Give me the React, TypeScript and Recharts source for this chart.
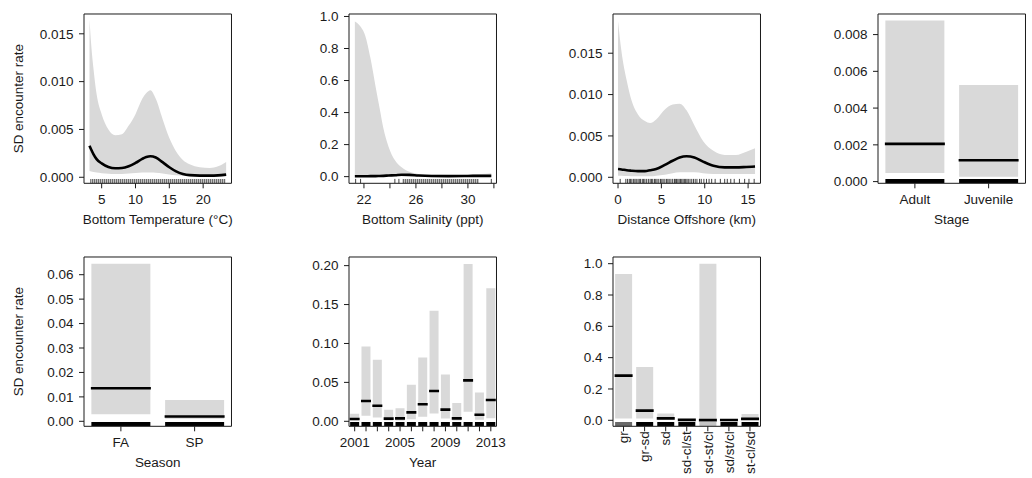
import React from 'react';
import {
  ComposedChart,
  Area,
  Line,
  Bar,
  Cell,
  Scatter,
  XAxis,
  YAxis,
  ReferenceArea,
} from 'recharts';

// ---------------- DATA ----------------
// Panel 1: Bottom Temperature
const tempX = [3.2, 3.45, 3.8, 4.25, 5.0, 6.0, 7.0, 8.0, 9.0, 10.0, 11.0, 11.6, 12.2, 13.0, 14.0, 15.0, 16.0, 17.0, 18.0, 19.5, 21.0, 22.2, 23.4];
const tempFit = [0.0033, 0.0029, 0.0024, 0.0019, 0.00145, 0.00108, 0.00095, 0.00097, 0.00115, 0.0015, 0.00193, 0.00212, 0.0022, 0.00207, 0.00158, 0.00105, 0.00062, 0.00035, 0.00022, 0.00017, 0.00017, 0.0002, 0.00028];
const tempLo = [0.00065, 0.0006, 0.00055, 0.0005, 0.00043, 0.00038, 0.00035, 0.00035, 0.0004, 0.00045, 0.0005, 0.0005, 0.0005, 0.00047, 0.0004, 0.0003, 0.0002, 0.00015, 0.00012, 0.0001, 0.0001, 0.0001, 0.00012];
const tempHi = [0.0165, 0.0139, 0.0113, 0.0087, 0.0066, 0.005, 0.0044, 0.0045, 0.0054, 0.0066, 0.0082, 0.0088, 0.0091, 0.0082, 0.0061, 0.0041, 0.0027, 0.0018, 0.00135, 0.00105, 0.00098, 0.00115, 0.0016];
const tempRugRange = [3.3, 23.3];

// Panel 2: Bottom Salinity
const salX = [21.3, 21.7, 22.1, 22.5, 22.9, 23.2, 23.5, 23.9, 24.4, 24.9, 25.5, 26.2, 27.2, 28.5, 30.0, 31.0, 31.8];
const salFit = [0.002, 0.002, 0.002, 0.003, 0.003, 0.004, 0.005, 0.007, 0.009, 0.012, 0.011, 0.007, 0.004, 0.003, 0.004, 0.005, 0.005];
const salLo = [0.0005, 0.0005, 0.0005, 0.0005, 0.0005, 0.0006, 0.0008, 0.001, 0.002, 0.003, 0.003, 0.002, 0.001, 0.001, 0.001, 0.001, 0.001];
const salHi = [0.968, 0.94, 0.88, 0.74, 0.56, 0.43, 0.3, 0.185, 0.1, 0.058, 0.03, 0.017, 0.011, 0.01, 0.012, 0.016, 0.021];
const salRugRange = [24.95, 30.85];
const salRugTicks = [21.36, 21.74, 24.38, 24.69, 31.8];

// Panel 3: Distance Offshore
const distX = [0, 0.4, 1.0, 1.5, 2.3, 3.1, 3.7, 4.4, 5.4, 6.3, 7.1, 7.9, 8.8, 9.8, 11.0, 12.3, 13.6, 14.8, 15.8];
const distFit = [0.001, 0.00095, 0.00085, 0.0008, 0.00075, 0.00075, 0.00085, 0.001, 0.0015, 0.002, 0.0024, 0.00255, 0.0024, 0.0019, 0.0014, 0.0012, 0.0012, 0.00125, 0.0013];
const distLo = [0.0002, 0.0002, 0.00015, 0.00013, 0.00012, 0.00012, 0.00012, 0.0002, 0.0003, 0.0005, 0.0006, 0.0006, 0.0006, 0.0005, 0.0004, 0.0004, 0.0004, 0.0004, 0.0004];
const distHi = [0.0189, 0.0152, 0.0117, 0.0095, 0.0076, 0.0068, 0.00656, 0.007, 0.0082, 0.0088, 0.0089, 0.0081, 0.0063, 0.0044, 0.0032, 0.0027, 0.0027, 0.0031, 0.0035];
const distRugTicks = [0.25, 0.9, 1.1, 1.3, 1.45, 1.6, 1.8, 1.95, 2.1, 2.3, 2.45, 2.6, 2.8, 2.95, 3.1, 3.3, 3.5, 3.7, 3.85, 4.0, 4.2, 4.35, 4.5, 4.7, 4.9, 5.05, 5.2, 5.4, 5.6, 5.75, 5.9, 6.1, 6.3, 6.5, 6.6, 6.75, 6.9, 7.05, 7.2, 7.35, 7.5, 7.65, 7.8, 7.95, 8.1, 8.3, 8.5, 8.7, 8.9, 9.1, 9.4, 9.6, 9.9, 10.2, 10.5, 10.8, 11.2, 11.8, 12.3, 12.6, 13.0, 13.4, 14.0, 14.6, 15.1, 15.7];

// Panel 4: Stage
const stageCats = ['Adult', 'Juvenile'];
const stageFit = [0.00205, 0.00116];
const stageLo = [0.00047, 0.00027];
const stageHi = [0.00876, 0.00526];

// Panel 5: Season
const seasonCats = ['FA', 'SP'];
const seasonFit = [0.0135, 0.002];
const seasonLo = [0.0029, 0.001];
const seasonHi = [0.0645, 0.0087];

// Panel 6: Year
const yearCats = ['2001', '2002', '2003', '2004', '2005', '2006', '2007', '2008', '2009', '2010', '2011', '2012', '2013'];
const yearFit = [0.003, 0.026, 0.02, 0.0034, 0.0038, 0.0115, 0.022, 0.039, 0.015, 0.0038, 0.0526, 0.0085, 0.0274];
const yearLo = [0.001, 0.007, 0.005, 0.001, 0.001, 0.0026, 0.006, 0.01, 0.0035, 0.001, 0.0124, 0.002, 0.004];
const yearHi = [0.0098, 0.096, 0.079, 0.015, 0.0167, 0.047, 0.082, 0.142, 0.06, 0.0235, 0.202, 0.037, 0.171];
const yearLabels = ['2001', '2005', '2009', '2013'];

// Panel 7: Sediment
const geoCats = ['gr', 'gr-sd', 'sd', 'sd-cl/st', 'sd-st/cl', 'sd/st/cl', 'st-cl/sd'];
const geoFit = [0.285, 0.062, 0.012, 0.003, 0.001, 0.002, 0.009];
const geoLo = [0.012, 0.011, 0.003, 0.001, 0.0, 0.001, 0.002];
const geoHi = [0.934, 0.34, 0.043, 0.009, 1.0, 0.009, 0.04];
const geoRugColor = ['#6a6a6a', '#000', '#000', '#000', '#c4c4c4', '#000', '#000'];

// ---------------- LAYOUT ----------------
const FONT = '"Liberation Sans", Arial, Helvetica, sans-serif';
const FS = 13.5;
const INK = '#1a1a1a';
const BAND = '#d9d9d9';
const BOX_W = 147.5;
const BOX_H = 169.3;
const COL_LEFT = [84, 348.5, 613.3, 878];
const ROW_TOP = [13.5, 257.3];
const L = 80;
const T = 8;
const R = 22;
const B = 52;
const TICK = 5;
const RUG_PX = 4.4;

const tickStyle = { fontSize: FS, fill: INK };

function contRows(xs: number[], fit: number[], lo: number[], hi: number[]) {
  return xs.map((x, i) => ({ x, fit: fit[i], band: [lo[i], hi[i]] }));
}

function xTitleContent(text: string) {
  return (p: any) => {
    const vb = p.viewBox;
    return (
      <text x={vb.x + vb.width / 2} y={vb.y + 41} textAnchor="middle" fontSize={FS} fill={INK}>
        {text}
      </text>
    );
  };
}

function yTitleContent(text: string) {
  return (p: any) => {
    const vb = p.viewBox;
    const x = vb.x + vb.width - 60.7;
    const y = vb.y + vb.height / 2;
    return (
      <text x={x} y={y} transform={`rotate(-90 ${x} ${y})`} textAnchor="middle" fontSize={FS} fill={INK}>
        {text}
      </text>
    );
  };
}

function RugTick(p: any) {
  return <line x1={p.cx} x2={p.cx} y1={p.cy} y2={p.cy - RUG_PX} stroke="#111" strokeWidth={0.8} />;
}

function FitShape(p: any) {
  return <line x1={p.x - 0.5} x2={p.x + p.width + 0.5} y1={p.y} y2={p.y} stroke="#000" strokeWidth={2.6} />;
}

function RotTick(p: any) {
  const x = p.x;
  const y = p.y - 6;
  return (
    <text x={x} y={y} dy="0.35em" transform={`rotate(-90 ${x} ${y})`} textAnchor="end" fontSize={FS} fill={INK}>
      {p.payload.value}
    </text>
  );
}

// top and right frame lines of the plot box (R's box())
function frameAxes(yDom: [number, number], topProps: any) {
  return [
    <XAxis
      key="ftop"
      xAxisId="top"
      orientation="top"
      height={1}
      tick={false}
      tickLine={false}
      axisLine={{ stroke: INK }}
      {...topProps}
    />,
    <YAxis
      key="fright"
      yAxisId="right"
      orientation="right"
      type="number"
      domain={yDom}
      allowDataOverflow
      width={1}
      tick={false}
      tickLine={false}
      axisLine={{ stroke: INK }}
    />,
  ];
}

type ContProps = {
  col: number;
  row: number;
  rows: any[];
  xDom: [number, number];
  xTicks: number[];
  xFmt?: (v: any) => string;
  yDom: [number, number];
  yTicks: number[];
  yDigits: number;
  xTitle: string;
  yTitle?: string;
  rugRange?: number[];
  rugTicks?: number[];
  pid: string;
};

function ContinuousPanel(props: ContProps) {
  const { col, row, rows, xDom, xTicks, xFmt, yDom, yTicks, yDigits, xTitle, yTitle, rugRange, rugTicks, pid } = props;
  const W = L + BOX_W + R;
  const H = T + BOX_H + B;
  const rugTop = yDom[0] + ((yDom[1] - yDom[0]) * RUG_PX) / BOX_H;
  return (
    <div style={{ position: 'absolute', left: COL_LEFT[col] - L, top: ROW_TOP[row] - T, width: W, height: H }}>
      <ComposedChart width={W} height={H} data={rows} margin={{ top: T - 1, right: R - 1, bottom: 0, left: 0 }}>
        <defs>
          <pattern id={pid} width={2} height={10} patternUnits="userSpaceOnUse">
            <rect width={2} height={10} fill="#c4c4c4" />
            <rect width={1} height={10} fill="#6e6e6e" />
          </pattern>
        </defs>
        <XAxis
          dataKey="x"
          type="number"
          domain={xDom}
          allowDataOverflow
          ticks={xTicks}
          interval={0}
          tickFormatter={xFmt}
          tickSize={TICK}
          tickMargin={6}
          height={B}
          tick={tickStyle}
          axisLine={{ stroke: INK }}
          tickLine={{ stroke: INK }}
          label={xTitleContent(xTitle)}
        />
        <YAxis
          type="number"
          domain={yDom}
          allowDataOverflow
          ticks={yTicks}
          interval={0}
          tickFormatter={(v: number) => v.toFixed(yDigits)}
          width={L}
          tickSize={TICK}
          tickMargin={5.5}
          tick={tickStyle}
          axisLine={{ stroke: INK }}
          tickLine={{ stroke: INK }}
          label={yTitle ? yTitleContent(yTitle) : undefined}
        />
        {frameAxes(yDom, { type: 'number', domain: xDom, allowDataOverflow: true })}
        <Area dataKey="band" type="monotone" fill={BAND} fillOpacity={1} stroke="none" isAnimationActive={false} />
        {rugRange ? (
          <ReferenceArea
            x1={rugRange[0]}
            x2={rugRange[1]}
            y1={yDom[0]}
            y2={rugTop}
            fill={`url(#${pid})`}
            fillOpacity={1}
            stroke="none"
            ifOverflow="visible"
          />
        ) : null}
        {rugTicks ? (
          <Scatter
            data={rugTicks.map((x) => ({ x, y: yDom[0] }))}
            dataKey="y"
            shape={RugTick}
            isAnimationActive={false}
          />
        ) : null}
        <Line dataKey="fit" type="monotone" stroke="#000" strokeWidth={2.6} dot={false} isAnimationActive={false} />
      </ComposedChart>
    </div>
  );
}

type FacProps = {
  col: number;
  row: number;
  cats: string[];
  fit: number[];
  lo: number[];
  hi: number[];
  rugColors?: string[];
  yDom: [number, number];
  yTicks: number[];
  yDigits: number;
  xTitle?: string;
  yTitle?: string;
  xFmt?: (v: any) => string;
  rotated?: boolean;
};

function FactorPanel(props: FacProps) {
  const { col, row, cats, fit, lo, hi, rugColors, yDom, yTicks, yDigits, xTitle, yTitle, xFmt, rotated } = props;
  const W = L + BOX_W + R;
  const H = T + BOX_H + B;
  const rugTop = yDom[0] + ((yDom[1] - yDom[0]) * RUG_PX) / BOX_H;
  const rows = cats.map((c, i) => ({
    cat: c,
    fit: fit[i],
    ci: [lo[i], hi[i]],
    rug: [yDom[0], rugTop],
    rugColor: rugColors ? rugColors[i] : '#000',
  }));
  return (
    <div style={{ position: 'absolute', left: COL_LEFT[col] - L, top: ROW_TOP[row] - T, width: W, height: H }}>
      <ComposedChart
        width={W}
        height={H}
        data={rows}
        margin={{ top: T - 1, right: R - 1, bottom: 0, left: 0 }}
        barCategoryGap="10%"
      >
        <XAxis
          dataKey="cat"
          type="category"
          interval={0}
          tickSize={TICK}
          tickMargin={6}
          height={B}
          tick={rotated ? (p: any) => <RotTick {...p} /> : tickStyle}
          tickFormatter={xFmt}
          axisLine={{ stroke: INK }}
          tickLine={{ stroke: INK }}
          label={xTitle ? xTitleContent(xTitle) : undefined}
        />
        <XAxis xAxisId="b" dataKey="cat" type="category" hide />
        <XAxis xAxisId="c" dataKey="cat" type="category" hide />
        <YAxis
          type="number"
          domain={yDom}
          allowDataOverflow
          ticks={yTicks}
          interval={0}
          tickFormatter={(v: number) => v.toFixed(yDigits)}
          width={L}
          tickSize={TICK}
          tickMargin={5.5}
          tick={tickStyle}
          axisLine={{ stroke: INK }}
          tickLine={{ stroke: INK }}
          label={yTitle ? yTitleContent(yTitle) : undefined}
        />
        {frameAxes(yDom, { type: 'category', dataKey: 'cat' })}
        <Bar dataKey="ci" fill={BAND} isAnimationActive={false} />
        <Bar xAxisId="c" dataKey="rug" isAnimationActive={false}>
          {rows.map((r, i) => (
            <Cell key={i} fill={r.rugColor} />
          ))}
        </Bar>
        <Bar xAxisId="b" dataKey="fit" shape={FitShape} isAnimationActive={false} />
      </ComposedChart>
    </div>
  );
}

export default function App() {
  return (
    <div
      style={{
        position: 'absolute',
        left: 0,
        top: 0,
        width: 1032,
        height: 478,
        overflow: 'hidden',
        background: '#fff',
        fontFamily: FONT,
      }}
    >
      <ContinuousPanel
        col={0}
        row={0}
        rows={contRows(tempX, tempFit, tempLo, tempHi)}
        xDom={[2.39, 24.19]}
        xTicks={[5, 10, 15, 20]}
        yDom={[-0.00063, 0.01707]}
        yTicks={[0, 0.005, 0.01, 0.015]}
        yDigits={3}
        xTitle="Bottom Temperature (°C)"
        yTitle="SD encounter rate"
        rugRange={tempRugRange}
        pid="rugA"
      />
      <ContinuousPanel
        col={1}
        row={0}
        rows={contRows(salX, salFit, salLo, salHi)}
        xDom={[20.85, 32.2]}
        xTicks={[22, 24, 26, 28, 30, 32]}
        xFmt={(v: number) => ([22, 26, 30].includes(v) ? String(v) : '')}
        yDom={[-0.0416, 1.0155]}
        yTicks={[0, 0.2, 0.4, 0.6, 0.8, 1.0]}
        yDigits={1}
        xTitle="Bottom Salinity (ppt)"
        rugRange={salRugRange}
        rugTicks={salRugTicks}
        pid="rugB"
      />
      <ContinuousPanel
        col={2}
        row={0}
        rows={contRows(distX, distFit, distLo, distHi)}
        xDom={[-0.58, 16.43]}
        xTicks={[0, 5, 10, 15]}
        yDom={[-0.000726, 0.01974]}
        yTicks={[0, 0.005, 0.01, 0.015]}
        yDigits={3}
        xTitle="Distance Offshore (km)"
        rugTicks={distRugTicks}
        pid="rugC"
      />
      <FactorPanel
        col={3}
        row={0}
        cats={stageCats}
        fit={stageFit}
        lo={stageLo}
        hi={stageHi}
        yDom={[-0.0000925, 0.00912]}
        yTicks={[0, 0.002, 0.004, 0.006, 0.008]}
        yDigits={3}
        xTitle="Stage"
      />
      <FactorPanel
        col={0}
        row={1}
        cats={seasonCats}
        fit={seasonFit}
        lo={seasonLo}
        hi={seasonHi}
        yDom={[-0.00204, 0.06724]}
        yTicks={[0, 0.01, 0.02, 0.03, 0.04, 0.05, 0.06]}
        yDigits={2}
        xTitle="Season"
        yTitle="SD encounter rate"
      />
      <FactorPanel
        col={1}
        row={1}
        cats={yearCats}
        fit={yearFit}
        lo={yearLo}
        hi={yearHi}
        yDom={[-0.00642, 0.2111]}
        yTicks={[0, 0.05, 0.1, 0.15, 0.2]}
        yDigits={2}
        xTitle="Year"
        xFmt={(v: string) => (yearLabels.includes(v) ? v : '')}
      />
      <FactorPanel
        col={2}
        row={1}
        cats={geoCats}
        fit={geoFit}
        lo={geoLo}
        hi={geoHi}
        rugColors={geoRugColor}
        yDom={[-0.0383, 1.0427]}
        yTicks={[0, 0.2, 0.4, 0.6, 0.8, 1.0]}
        yDigits={1}
        rotated
      />
    </div>
  );
}
